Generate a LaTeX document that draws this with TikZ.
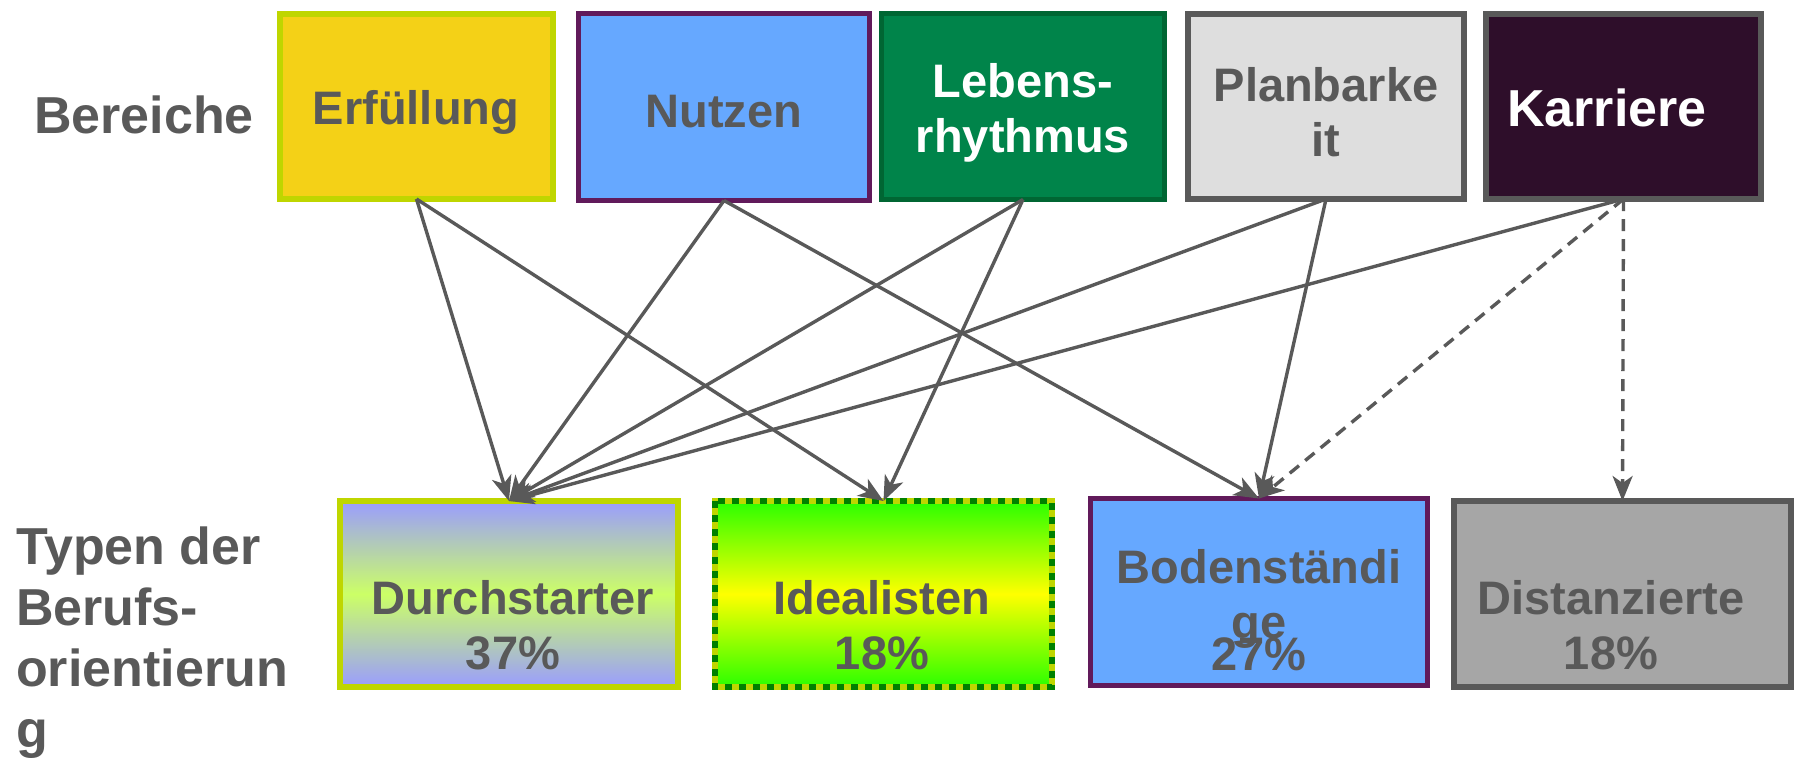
\documentclass[tikz,border=0pt]{standalone}
\usepackage{fontspec}
\setmainfont{Liberation Sans}
\usetikzlibrary{arrows.meta}
\definecolor{tgray}{HTML}{595959}
\definecolor{ygreen}{HTML}{BFD600}
\definecolor{erffill}{HTML}{F4D117}
\definecolor{purp}{HTML}{611A5B}
\definecolor{lblue}{HTML}{66A8FF}
\definecolor{dgreen}{HTML}{006633}
\definecolor{mgreen}{HTML}{00844A}
\definecolor{lgray}{HTML}{DEDEDE}
\definecolor{karfill}{HTML}{2E0E2A}
\definecolor{lav}{HTML}{9A9CFF}
\definecolor{lime}{HTML}{CCFF66}
\definecolor{brgreen}{HTML}{2BFF00}
\definecolor{yel}{HTML}{FFFF00}
\definecolor{dashgreen}{HTML}{008000}
\definecolor{mgray}{HTML}{A6A6A6}
\tikzset{
  box/.style={rectangle, inner sep=0pt, outer sep=0pt},
  boxtext/.style={inner sep=0pt, align=center, text=tgray,
    font=\fontsize{47}{55}\selectfont\bfseries},
  sidetext/.style={inner sep=0pt, align=left, text=tgray,
    font=\fontsize{52}{61}\selectfont\bfseries},
  arr/.style={draw=tgray, line width=3.4pt,
    -{Stealth[length=25pt,width=20pt,inset=7pt]}},
  darr/.style={arr, dash pattern=on 12pt off 8pt}
}
\begin{document}
\begin{tikzpicture}[x=1pt,y=-1pt]
\useasboundingbox (0,0) rectangle (1800,764);
% top row
\node[box, draw=ygreen, line width=6pt, fill=erffill, minimum width=273pt, minimum height=185pt] (erf) at (416.5,106.5) {};
\node[box, draw=purp, line width=5pt, fill=lblue, minimum width=291pt, minimum height=187pt] (nut) at (724,107) {};
\node[box, draw=dgreen, line width=5pt, fill=mgreen, minimum width=283pt, minimum height=186pt] (leb) at (1023,106.5) {};
\node[box, draw=tgray, line width=6pt, fill=lgray, minimum width=276pt, minimum height=185pt] (pla) at (1326,106.5) {};
\node[box, draw=tgray, line width=6pt, fill=karfill, minimum width=275pt, minimum height=185pt] (kar) at (1623.5,106.5) {};
\node[boxtext] (erft) at (416,112.5) {Erfüllung};
\node[boxtext] (nutt) at (724,112) {Nutzen};
\node[boxtext, text=white] (lebt) at (1023,112.5) {Lebens-\\rhythmus};
\node[boxtext] (plat) at (1326,112.5) {Planbarke\\it};
\node[boxtext, text=white, font=\fontsize{52}{60}\selectfont\bfseries] (kart) at (1607,108) {Karriere};
% bottom row
\node[box, draw=ygreen, line width=6pt, top color=lav, bottom color=lav, middle color=lime, minimum width=338pt, minimum height=186pt] (dur) at (509,594) {};
\node[box, draw=ygreen, line width=6pt, top color=brgreen, bottom color=brgreen, middle color=yel, minimum width=337pt, minimum height=186pt] (ide) at (883.5,594) {};
\draw[dashgreen, line width=6pt, dash pattern=on 7pt off 7pt] (ide.north west) rectangle (ide.south east);
\node[box, draw=purp, line width=5pt, fill=lblue, minimum width=337pt, minimum height=187pt] (bod) at (1259,592) {};
\node[box, draw=tgray, line width=6pt, fill=mgray, minimum width=337pt, minimum height=186pt] (dis) at (1622.5,594) {};
\node[boxtext] (durt) at (513,625) {Durchstarter\\37\%};
\node[boxtext] (idet) at (882,625) {Idealisten\\18\%};
\node[boxtext] (bodt) at (1259,610) {Bodenständi\\ge\\[-23pt]27\%};
\node[boxtext] (dist) at (1611,625) {Distanzierte\\18\%};
% side labels
\node[sidetext, anchor=west] (ber) at (34,115) {Bereiche};
\node[sidetext, anchor=west] (typ) at (16,643) {Typen der\\Berufs-\\orientierun\\g};
% connectors
\draw[arr] (erf.south) -- (dur.north);
\draw[arr] (erf.south) -- (ide.north);
\draw[arr] (nut.south) -- (dur.north);
\draw[arr] (nut.south) -- (bod.north);
\draw[arr] (leb.south) -- (dur.north);
\draw[arr] (leb.south) -- (ide.north);
\draw[arr] (pla.south) -- (dur.north);
\draw[arr] (pla.south) -- (bod.north);
\draw[arr] (kar.south) -- (dur.north);
\draw[darr] (kar.south) -- (bod.north);
\draw[darr] (kar.south) -- (dis.north);
\end{tikzpicture}
\end{document}
